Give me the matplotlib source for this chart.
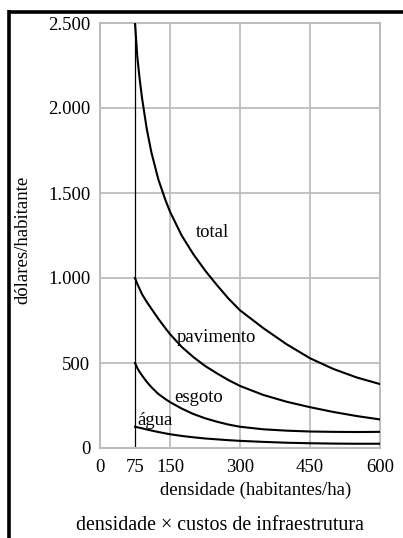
import matplotlib
matplotlib.use('Agg')
import matplotlib.pyplot as plt
from matplotlib.lines import Line2D

plt.rcParams['font.family'] = ['Liberation Serif', 'DejaVu Serif']

# densidade (habitantes/ha)
dens = [75, 80, 85, 90, 100, 110, 125, 140, 150, 175, 200, 225, 250, 275, 300,
        350, 400, 450, 500, 550, 600]

# custos (dólares/habitante)
total = [2500, 2300, 2170, 2060, 1880, 1740, 1580, 1460, 1390, 1250, 1140, 1045,
         960, 880, 810, 705, 610, 528, 465, 415, 376]
pavimento = [1000, 965, 935, 905, 860, 820, 760, 705, 670, 595, 535, 483,
             440, 400, 365, 312, 272, 240, 212, 188, 168]
esgoto = [500, 470, 447, 427, 390, 358, 318, 288, 270, 232, 200, 175,
          155, 138, 125, 110, 102, 97, 95, 94, 95]
agua = [125, 122, 119, 116, 109, 103, 94, 86, 81, 71, 63, 56,
        51, 46, 42, 36, 31, 28, 26, 25, 25]

xticks = [0, 75, 150, 300, 450, 600]
yticks = [0, 500, 1000, 1500, 2000, 2500]
ytick_labels = ['0', '500', '1.000', '1.500', '2.000', '2.500']

fs = 13.5

fig = plt.figure(figsize=(4.03, 5.38), dpi=100)
ax = fig.add_axes([100 / 403, 90 / 538, 280 / 403, 425 / 538])

grid_c = '#bdbdbd'
for xv in [150, 300, 450]:
    ax.axvline(xv, color=grid_c, lw=1.3, zorder=1)
for yv in [500, 1000, 1500, 2000]:
    ax.axhline(yv, color=grid_c, lw=1.3, zorder=1)
for s in ax.spines.values():
    s.set_color(grid_c)
    s.set_linewidth(1.5)

# linha vertical em 75
ax.plot([75, 75], [0, 2500], color='black', lw=0.9, zorder=2)

for serie in [total, pavimento, esgoto, agua]:
    ax.plot(dens, serie, color='black', lw=1.5, zorder=3)

ax.set_xlim(0, 600)
ax.set_ylim(0, 2500)
ax.set_xticks(xticks)
ax.set_xticklabels([str(v) for v in xticks])
ax.set_yticks(yticks)
ax.set_yticklabels(ytick_labels)
ax.tick_params(length=0, labelsize=fs, pad=7)
ax.tick_params(axis='x', pad=8)

ax.text(240, 1270, 'total', fontsize=fs, ha='center', va='center')
ax.text(250, 650, 'pavimento', fontsize=fs, ha='center', va='center')
ax.text(212, 295, 'esgoto', fontsize=fs, ha='center', va='center')
ax.text(118, 160, 'água', fontsize=fs, ha='center', va='center')

fig.text(256 / 403, 1 - 490 / 538, 'densidade (habitantes/ha)', fontsize=fs,
         ha='center', va='center')
fig.text(23 / 403, 1 - 240 / 538, 'dólares/habitante', fontsize=fs,
         ha='center', va='center', rotation=90)
fig.text(220 / 403, 1 - 525 / 538, 'densidade \u00d7 custos de infraestrutura', fontsize=14.4,
         ha='center', va='center')

# moldura preta (topo e esquerda)
fig.add_artist(Line2D([8.5 / 403, 1], [1 - 11.5 / 538] * 2, color='black', lw=2.6,
                      transform=fig.transFigure, solid_capstyle='butt'))
fig.add_artist(Line2D([8.5 / 403] * 2, [0, 1 - 10 / 538], color='black', lw=2.6,
                      transform=fig.transFigure, solid_capstyle='butt'))

fig.savefig('out.png', dpi=100)
